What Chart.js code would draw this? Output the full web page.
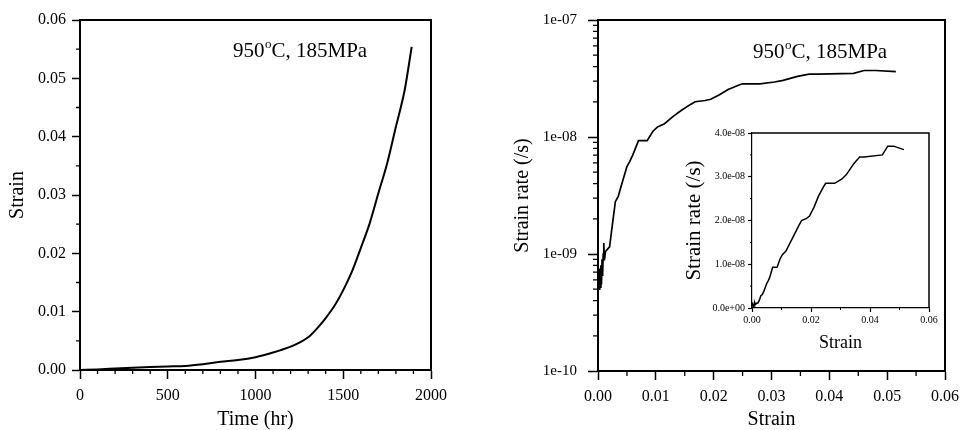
<!DOCTYPE html>
<html><head><meta charset="utf-8">
<script src="https://cdn.jsdelivr.net/npm/chart.js@4.4.0/dist/chart.umd.min.js"></script>
<style>
html,body{margin:0;padding:0;background:#fff;}
#wrap{position:relative;width:968px;height:430px;overflow:hidden;background:#fff;}
canvas{position:absolute;}
</style></head><body>
<div id="wrap">
<canvas id="c1" width="480" height="430" style="left:0;top:0"></canvas>
<canvas id="c2" width="488" height="430" style="left:480px;top:0"></canvas>
<canvas id="c3" width="270" height="250" style="left:680px;top:110px"></canvas>
</div>
<script>
// ---------- data ----------
const timeHr = [0,100,200,300,400,500,600,700,800,900,1000,1100,1200,1250,1300,1350,1400,1450,1500,1550,1600,1650,1700,1750,1800,1850,1890];
const strainVsTime = [0,0.0001,0.00025,0.0004,0.0005,0.0006,0.0007,0.001,0.0014,0.0017,0.0022,0.003,0.004,0.0047,0.0056,0.0071,0.0089,0.011,0.0137,0.0169,0.0209,0.0251,0.0303,0.0354,0.0417,0.048,0.0554];

const strainAxis = [0.0001,0.0002,0.0003,0.0004,0.0005,0.0006,0.0007,0.0008,0.0009,0.001,0.0011,0.0013,0.0015,0.002,0.0025,0.003,0.0035,0.004,0.005,0.0055,0.006,0.007,0.0085,0.0095,0.0103,0.0115,0.013,0.0145,0.016,0.0168,0.0185,0.0195,0.021,0.0225,0.0245,0.025,0.028,0.0305,0.032,0.0345,0.0365,0.038,0.0442,0.046,0.048,0.0515];
const strainRate = [6e-10,5e-10,7.5e-10,5.2e-10,8e-10,5.5e-10,9e-10,6.5e-10,1e-9,1.24e-9,8.8e-10,1.05e-9,1.08e-9,1.15e-9,1.8e-9,2.8e-9,3.1e-9,3.8e-9,5.6e-9,6.2e-9,7e-9,9.3e-9,9.3e-9,1.12e-8,1.22e-8,1.3e-8,1.5e-8,1.7e-8,1.9e-8,2e-8,2.05e-8,2.1e-8,2.3e-8,2.55e-8,2.8e-8,2.85e-8,2.85e-8,2.95e-8,3.05e-8,3.3e-8,3.45e-8,3.45e-8,3.5e-8,3.7e-8,3.7e-8,3.62e-8];

const leftXTicks = [0,500,1000,1500,2000];
const leftXLabels = ['0','500','1000','1500','2000'];
const leftYTicks = [0,0.01,0.02,0.03,0.04,0.05,0.06];
const leftYLabels = ['0.00','0.01','0.02','0.03','0.04','0.05','0.06'];
const rightXTicks = [0,0.01,0.02,0.03,0.04,0.05,0.06];
const rightXLabels = ['0.00','0.01','0.02','0.03','0.04','0.05','0.06'];
const rightYTicks = [1e-10,1e-9,1e-8,1e-7];
const rightYLabels = ['1e-10','1e-09','1e-08','1e-07'];
const insetXTicks = [0,0.02,0.04,0.06];
const insetXLabels = ['0.00','0.02','0.04','0.06'];
const insetYTicks = [0,1e-8,2e-8,3e-8,4e-8];
const insetYLabels = ['0.0e+00','1.0e-08','2.0e-08','3.0e-08','4.0e-08'];
const conditionParts = ['950','o','C, 185MPa'];

// ---------- helpers ----------
const SERIF = '"Liberation Serif","Times New Roman",serif';
Chart.defaults.color = '#000';
Chart.defaults.font.family = SERIF;

function fixedTicks(values){ return s => { s.ticks = values.map(v => ({value: v})); }; }
function pts(xs, ys){ return xs.map((x,i)=>({x:x, y:ys[i]})); }
function range(a,b,step){ const r=[]; for(let v=a; v<=b+step*1e-6; v+=step) r.push(+v.toPrecision(10)); return r; }
const logMinor = []; [-10,-9,-8].forEach(d=>{ for(let k=2;k<=9;k++) logMinor.push(k*Math.pow(10,d)); });

const framePlugin = {
  id:'frame',
  afterDraw(chart, args, opts){
    const {ctx, chartArea:a, scales} = chart;
    ctx.save();
    ctx.strokeStyle='#000'; ctx.lineWidth=opts.width||2;
    ctx.beginPath(); ctx.moveTo(a.left, a.top); ctx.lineTo(a.right, a.top); ctx.lineTo(a.right, a.bottom); ctx.stroke();
    // minor ticks
    ctx.lineWidth = opts.minorWidth||1.3;
    const mx = opts.minorX||[], my = opts.minorY||[], L = opts.minorLen||4;
    ctx.beginPath();
    mx.forEach(v=>{ const p=scales.x.getPixelForValue(v); ctx.moveTo(p, a.bottom); ctx.lineTo(p, a.bottom+L); });
    my.forEach(v=>{ const p=scales.y.getPixelForValue(v); ctx.moveTo(a.left, p); ctx.lineTo(a.left-L, p); });
    ctx.stroke();
    // annotation
    if (opts.label){
      const lb = opts.label;
      ctx.fillStyle='#000'; ctx.textBaseline='alphabetic'; ctx.textAlign='left';
      let x = lb.x;
      ctx.font = lb.size+'px '+SERIF; ctx.fillText(conditionParts[0], x, lb.y); x += ctx.measureText(conditionParts[0]).width;
      ctx.font = Math.round(lb.size*0.62)+'px '+SERIF; ctx.fillText(conditionParts[1], x+0.5, lb.y - lb.size*0.42); x += ctx.measureText(conditionParts[1]).width+0.5;
      ctx.font = lb.size+'px '+SERIF; ctx.fillText(conditionParts[2], x, lb.y);
    }
    ctx.restore();
  }
};

function axisCommon(tickLen, fontSize, pad, lw){
  return {
    grid:{display:true, drawOnChartArea:false, drawTicks:true, tickLength:tickLen, tickColor:'#000', tickWidth:lw||1.5},
    border:{display:true, color:'#000', width:lw?lw:2},
    ticks:{font:{size:fontSize, lineHeight:1}, padding:pad, maxRotation:0, autoSkip:false, color:'#000'}
  };
}

function makeAxis(type, ticksVals, labels, min, max, tickLen, fontSize, pad, fitSize, isY, title, lw){
  const c = axisCommon(tickLen, fontSize, pad, lw);
  return Object.assign({
    type: type, min: min, max: max,
    afterBuildTicks: fixedTicks(ticksVals),
    afterFit: s => { if(isY) s.width = fitSize; else s.height = fitSize; },
    title: title
  }, c, {ticks: Object.assign(c.ticks, {callback:(v,i)=>labels[i]})});
}

const lineDS = (data, w, tension) => ({data:data, borderColor:'#000', borderWidth:w, pointRadius:0, fill:false, tension:tension||0, cubicInterpolationMode: tension? 'monotone':'default'});

// ---------- left chart ----------
new Chart(document.getElementById('c1'), {
  type:'line',
  data:{datasets:[lineDS(pts(timeHr, strainVsTime), 2, 0.4)]},
  options:{
    responsive:false, animation:false, events:[],
    layout:{padding:{left:0, top:20, right:49, bottom:0}},
    plugins:{legend:{display:false}, tooltip:{enabled:false},
      frame:{minorX: range(100,1900,100).filter(v=>v%500!==0), minorY: range(0.005,0.055,0.01), minorLen:4,
             label:{x:233, y:57, size:21}}},
    scales:{
      x: makeAxis('linear', leftXTicks, leftXLabels, 0, 2000, 9, 16, 9, 60, false,
           {display:true, text:'Time (hr)', font:{size:20, lineHeight:1}, padding:{top:0,bottom:0}}),
      y: makeAxis('linear', leftYTicks, leftYLabels, 0, 0.06, 8, 16, 6, 80, true,
           {display:true, text:'Strain', font:{size:20, lineHeight:1}, padding:{top:8,bottom:0}})
    }
  },
  plugins:[framePlugin]
});

// ---------- right chart ----------
new Chart(document.getElementById('c2'), {
  type:'line',
  data:{datasets:[lineDS(pts(strainAxis, strainRate), 1.7)]},
  options:{
    responsive:false, animation:false, events:[],
    layout:{padding:{left:0, top:20, right:16, bottom:0}},
    plugins:{legend:{display:false}, tooltip:{enabled:false},
      frame:{minorX: range(0.005,0.055,0.01), minorY: logMinor, minorLen:5,
             label:{x:273, y:58, size:21}}},
    scales:{
      x: makeAxis('linear', rightXTicks, rightXLabels, 0, 0.06, 9, 16, 9, 59, false,
           {display:true, text:'Strain', font:{size:20, lineHeight:1}, padding:{top:0,bottom:0}}),
      y: makeAxis('logarithmic', rightYTicks, rightYLabels, 1e-10, 1e-7, 10, 15, 11, 118, true,
           {display:true, text:'Strain rate (/s)', font:{size:20, lineHeight:1}, padding:{top:33,bottom:0}})
    }
  },
  plugins:[framePlugin]
});

// ---------- inset chart ----------
new Chart(document.getElementById('c3'), {
  type:'line',
  data:{datasets:[lineDS(pts(strainAxis, strainRate), 1.5)]},
  options:{
    responsive:false, animation:false, events:[],
    layout:{padding:{left:0, top:23, right:21, bottom:0}},
    plugins:{legend:{display:false}, tooltip:{enabled:false},
      frame:{width:1.5, minorWidth:1, minorX: [0.01,0.03,0.05], minorY: [0.5e-8,1.5e-8,2.5e-8,3.5e-8], minorLen:2}},
    scales:{
      x: makeAxis('linear', insetXTicks, insetXLabels, 0, 0.06, 4, 10, 3, 52, false,
           {display:true, text:'Strain', font:{size:18, lineHeight:1}, padding:{top:0,bottom:8}}, 1.2),
      y: makeAxis('linear', insetYTicks, insetYLabels, 0, 4e-8, 4, 10, 3, 72, true,
           {display:true, text:'Strain rate (/s)', font:{size:21, lineHeight:1}, padding:{top:3.5,bottom:0}}, 1.2)
    }
  },
  plugins:[framePlugin]
});
</script>
</body></html>
